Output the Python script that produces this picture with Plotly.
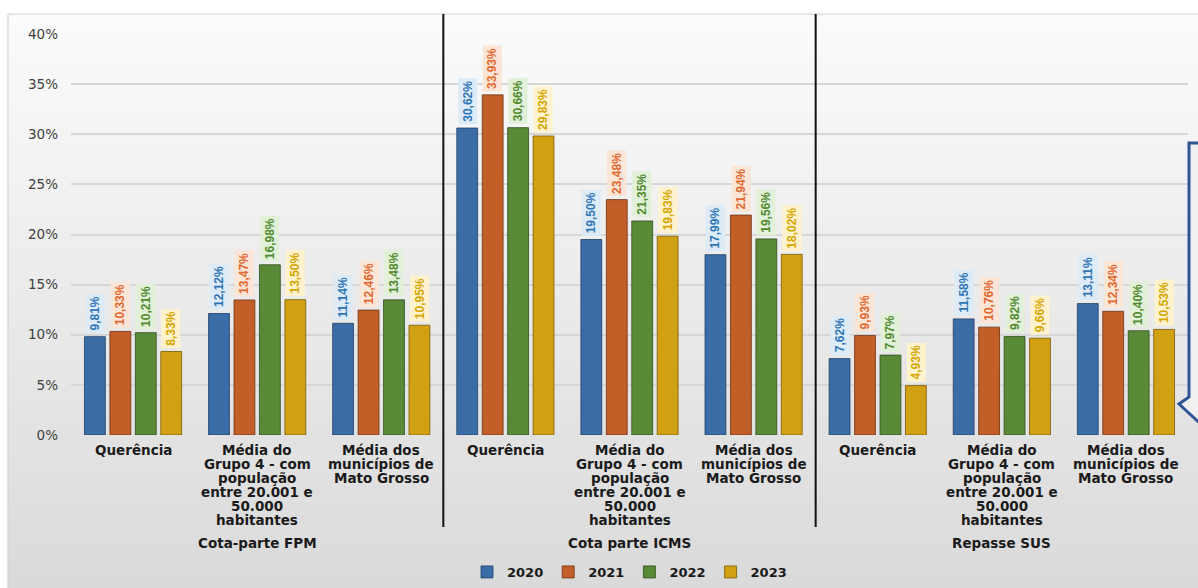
import plotly.graph_objects as go

# ---------------- data ----------------
categories = [
    "Querência",
    "Média do<br>Grupo 4 - com<br>população<br>entre 20.001 e<br>50.000<br>habitantes",
    "Média dos<br>municípios de<br>Mato Grosso",
] * 3
groups = ["Cota-parte FPM", "Cota parte ICMS", "Repasse SUS"]
years = ["2020", "2021", "2022", "2023"]

v2020 = [9.81, 12.12, 11.14, 30.62, 19.50, 17.99, 7.62, 11.58, 13.11]
v2021 = [10.33, 13.47, 12.46, 33.93, 23.48, 21.94, 9.93, 10.76, 12.34]
v2022 = [10.21, 16.98, 13.48, 30.66, 21.35, 19.56, 7.97, 9.82, 10.40]
v2023 = [8.33, 13.50, 10.95, 29.83, 19.83, 18.02, 4.93, 9.66, 10.53]
series = [v2020, v2021, v2022, v2023]

bar_colors = ["#3a6ca5", "#c25f29", "#588a38", "#d2a013"]
line_colors = ["#1f3f66", "#6e3010", "#2e4d1c", "#7a5c05"]
text_colors = ["#2e75b6", "#e2682e", "#4f8a2c", "#d6a600"]
label_bg = ["#ddebf7", "#fbe5d6", "#e2f0d9", "#fff2cc"]

# ---------------- geometry helpers ----------------
W, H = 1198, 588
PL, PR, PT, PB = 71, 1188, 34, 435  # plot area in pixels
BARGAP, BARGROUPGAP = 0.18, 0.18
CAT_FONT = "DejaVu Sans, Liberation Sans, Arial"


def px_x(px):
    return (px - PL) / (PR - PL)


def px_y(py):
    return (PB - py) / (PB - PT)


xs = list(range(len(categories)))

fig = go.Figure()
for i, yr in enumerate(years):
    fig.add_trace(go.Bar(
        x=xs, y=[v / 100 for v in series[i]], name=yr,
        marker=dict(color=bar_colors[i], line=dict(color=line_colors[i], width=0.8)),
        hoverinfo="skip",
    ))

# data labels (rotated, with coloured boxes)
slot = (1 - BARGAP) / 4
annotations = []
for i in range(4):
    off = -(1 - BARGAP) / 2 + slot * (i + 0.5)
    for j, v in enumerate(series[i]):
        annotations.append(dict(
            x=xs[j] + off, y=v / 100, xref="x", yref="y",
            text=f"{v:.2f}%".replace(".", ","), textangle=-90,
            showarrow=False, xanchor="center", yanchor="bottom", yshift=3,
            font=dict(family="Liberation Sans, Arial", size=12, color=text_colors[i], weight="bold"),
            bgcolor=label_bg[i], borderpad=2,
        ))

# category labels, one line each (tight line spacing as in the original)
for j, cat in enumerate(categories):
    for k, line in enumerate(cat.split("<br>")):
        annotations.append(dict(
            x=xs[j], y=px_y(450 + 14 * k), xref="x", yref="paper", text=line,
            showarrow=False, xanchor="center", yanchor="middle",
            font=dict(family=CAT_FONT, size=13.5, color="#1a1a1a", weight="bold"),
        ))

# group labels
for g, name in enumerate(groups):
    annotations.append(dict(
        x=g * 3 + 1, y=px_y(543), xref="x", yref="paper", text=name, showarrow=False,
        xanchor="center", yanchor="middle",
        font=dict(family=CAT_FONT, size=13.5, color="#1a1a1a", weight="bold"),
    ))

shapes = []
# background gradient bands for the chart frame
n_bands = 40
top_c, bot_c = (251, 251, 251), (218, 218, 218)
y_top, y_bot = 14, H
for k in range(n_bands):
    t = k / (n_bands - 1)
    c = tuple(int(round(top_c[m] + (bot_c[m] - top_c[m]) * t)) for m in range(3))
    ya = y_top + (y_bot - y_top) * k / n_bands
    yb = y_top + (y_bot - y_top) * (k + 1) / n_bands + 1
    shapes.append(dict(type="rect", xref="paper", yref="paper", layer="below",
                       x0=px_x(8), x1=px_x(W + 5), y0=px_y(ya), y1=px_y(yb),
                       fillcolor="rgb(%d,%d,%d)" % c, line=dict(width=0)))
# frame outline
shapes.append(dict(type="rect", xref="paper", yref="paper", layer="below",
                   x0=px_x(8), x1=px_x(W + 5), y0=px_y(14), y1=px_y(H + 5),
                   fillcolor="rgba(0,0,0,0)", line=dict(color="#d0d0d0", width=1)))
# group separators
for sx in [2.5, 5.5]:
    shapes.append(dict(type="line", xref="x", yref="paper", x0=sx, x1=sx,
                       y0=px_y(14), y1=px_y(527), line=dict(color="#111111", width=2)))
# partially visible callout at the right edge
path = "M {} {} L {} {} L {} {} L {} {} L {} {}".format(
    px_x(W + 5), px_y(143), px_x(1189), px_y(143), px_x(1189), px_y(397),
    px_x(1179), px_y(404), px_x(W + 5), px_y(426))
shapes.append(dict(type="path", xref="paper", yref="paper", path=path,
                   fillcolor="#f0f0f0", line=dict(color="#2f5597", width=3)))

fig.update_layout(
    width=W, height=H,
    margin=dict(l=PL, r=W - PR, t=PT, b=H - PB, autoexpand=False),
    barmode="group", bargap=BARGAP, bargroupgap=BARGROUPGAP,
    paper_bgcolor="white", plot_bgcolor="rgba(0,0,0,0)",
    font=dict(family="Liberation Sans, Arial", color="#404040"),
    xaxis=dict(
        tickmode="array", tickvals=xs, showticklabels=False,
        range=[-0.5, len(categories) - 0.5], showgrid=False, zeroline=False,
        showline=False, ticks="",
    ),
    yaxis=dict(
        range=[0, 0.4], dtick=0.05, tickformat=".0%", showgrid=True,
        gridcolor="#d6d6d6", gridwidth=1.5, zeroline=False, showline=False, ticks="",
        ticklabelstandoff=12,
        tickfont=dict(family=CAT_FONT, size=13.5, color="#404040"),
    ),
    legend=dict(
        orientation="h", x=0.5, xanchor="center", y=px_y(572), yanchor="middle",
        bgcolor="rgba(0,0,0,0)", itemwidth=30,
        font=dict(family=CAT_FONT, size=13, color="#1a1a1a", weight="bold"),
    ),
    annotations=annotations,
    shapes=shapes,
    showlegend=True,
)

fig.write_html("out.html")
